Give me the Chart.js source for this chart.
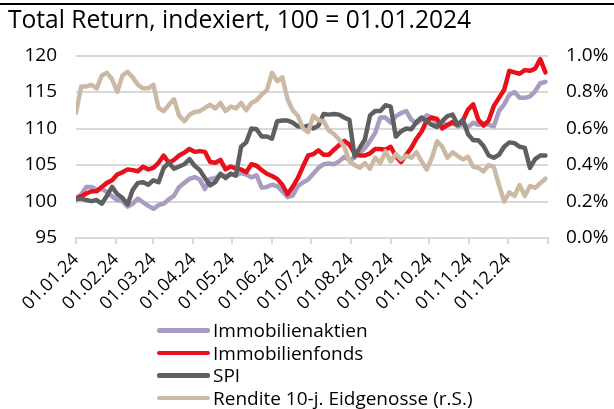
<!DOCTYPE html>
<html>
<head>
<meta charset="utf-8">
<script src="https://cdn.jsdelivr.net/npm/chart.js@4"></script>
<style>
  body { margin: 0; background: #fff; }
  #wrap { position: relative; width: 614px; height: 409px; }
  #topline { position: absolute; left: 0; top: 3px; width: 614px; height: 2px; background: #000; }
  #legend { position: absolute; left: 157px; top: 319px; font-family: "Open Sans", sans-serif; font-size: 19px; color: #000; }
  #legend .row { height: 22.5px; display: flex; align-items: center; }
  #legend .swatch { width: 53px; height: 4.5px; border-radius: 2px; margin-right: 3px; }
</style>
</head>
<body>
<div id="wrap">
  <canvas id="chart" width="614" height="409"></canvas>
  <div id="topline"></div>
  <div id="legend"></div>
</div>
<script>
// day of year 2024 (0 = 01.01.24), every 4 days
const days = [
  0, 4, 8, 12, 16, 20, 24, 28, 32, 36, 40, 44, 48, 52, 56, 60, 64, 68, 72, 76, 80, 84, 88, 92,
  96, 100, 104, 108, 112, 116, 120, 124, 128, 132, 136, 140, 144, 148, 152, 156, 160, 164, 168, 172, 176, 180, 184, 188,
  192, 196, 200, 204, 208, 212, 216, 220, 224, 228, 232, 236, 240, 244, 248, 252, 256, 260, 264, 268, 272, 276, 280,
  284, 288, 292, 296, 300, 304, 308, 312, 316, 320, 324, 328, 332, 336, 340, 344, 348, 352, 356, 360, 364
];

const immobilienaktien = [
  100.5, 100.95, 102.0, 102.0, 101.6, 101.7, 101.3, 100.7, 100.2, 100.05, 99.3, 99.7, 100.4, 99.9, 99.4, 99.0, 99.5, 99.7, 100.3, 100.8, 102.0, 102.55, 103.1, 103.35,
  103.0, 101.7, 103.1, 103.2, 103.6, 103.5, 103.8, 103.6, 103.9, 103.7, 103.3, 103.6, 101.9, 102.0, 102.3, 102.1, 101.4, 100.6, 100.8, 102.1, 102.6, 103.0, 103.8, 104.6,
  105.1, 105.2, 105.1, 105.5, 106.1, 105.7, 106.0, 106.7, 107.3, 108.3, 109.4, 111.5, 111.5, 110.8, 111.7, 112.1, 112.4, 111.2, 110.7, 111.2, 111.8, 111.5, 110.7,
  110.8, 110.4, 110.7, 110.3, 110.5, 110.2, 110.8, 110.5, 110.7, 110.5, 110.3, 112.4, 113.3, 114.6, 115.0, 114.2, 114.2, 114.4, 115.1, 116.2, 116.4
];

const immobilienfonds = [
  100.4, 100.7, 101.1, 101.4, 101.4, 102.0, 102.55, 102.9, 103.7, 104.0, 104.4, 104.3, 104.15, 104.75, 104.4, 104.6, 105.3, 106.3, 105.3, 105.7, 106.3, 106.7, 107.2, 106.8,
  106.9, 106.8, 105.4, 105.3, 105.7, 104.4, 104.8, 104.5, 104.4, 104.0, 105.1, 104.9, 104.3, 103.8, 103.5, 103.1, 102.3, 101.0, 102.0, 103.2, 104.8, 106.3, 106.5, 107.0,
  106.4, 106.4, 107.1, 107.7, 108.3, 107.8, 106.6, 106.3, 106.3, 106.6, 107.2, 107.2, 107.1, 107.5, 106.2, 105.4, 106.4, 107.35, 108.6, 109.6, 111.1, 111.5, 111.3,
  110.0, 110.5, 110.9, 110.5, 111.1, 112.6, 113.3, 111.2, 110.4, 111.1, 113.1, 114.2, 115.3, 117.9, 117.7, 117.5, 118.0, 117.9, 118.2, 119.5, 117.7
];

const spi = [
  100.3, 100.4, 100.2, 100.05, 100.2, 99.7, 100.8, 102.0, 101.0, 100.5, 99.6, 101.6, 102.55, 102.65, 102.3, 102.9, 102.65, 104.6, 105.3, 104.5, 104.8, 105.1, 105.8, 104.9,
  104.3, 103.2, 102.2, 102.65, 103.8, 103.2, 103.8, 103.55, 107.5, 108.1, 110.0, 109.9, 108.9, 108.9, 108.6, 111.0, 111.1, 111.1, 110.8, 110.3, 110.2, 110.4, 110.0, 110.4,
  112.0, 111.9, 112.0, 111.9, 111.5, 111.2, 106.2, 107.35, 108.5, 111.8, 112.4, 112.4, 113.2, 113.0, 108.9, 109.6, 110.0, 109.9, 110.9, 111.5, 111.0, 110.5, 110.2,
  111.0, 111.7, 111.9, 110.5, 111.2, 109.2, 108.4, 108.4, 107.6, 106.3, 106.0, 106.4, 107.5, 108.1, 108.0, 107.5, 107.35, 104.6, 105.8, 106.3, 106.3
];

// Rendite 10-j. Eidgenosse in %
const rendite = [
  0.686, 0.83, 0.83, 0.84, 0.82, 0.89, 0.905, 0.87, 0.80, 0.89, 0.91, 0.88, 0.84, 0.82, 0.82, 0.84, 0.713, 0.695, 0.73, 0.76, 0.67, 0.64, 0.675, 0.69,
  0.695, 0.713, 0.73, 0.71, 0.74, 0.695, 0.72, 0.71, 0.74, 0.70, 0.74, 0.755, 0.786, 0.81, 0.905, 0.86, 0.88, 0.76, 0.70, 0.67, 0.60, 0.58, 0.67, 0.645,
  0.64, 0.59, 0.57, 0.54, 0.50, 0.42, 0.40, 0.385, 0.41, 0.38, 0.44, 0.41, 0.475, 0.42, 0.46, 0.43, 0.45, 0.44, 0.47, 0.42, 0.375, 0.44, 0.53,
  0.50, 0.44, 0.47, 0.45, 0.43, 0.445, 0.39, 0.385, 0.365, 0.40, 0.39, 0.29, 0.20, 0.25, 0.23, 0.29, 0.23, 0.285, 0.275, 0.30, 0.325
];

const monthStarts = [0, 31, 60, 91, 121, 152, 182, 213, 244, 274, 305, 335, 366];
const monthLabels = ['01.01.24', '01.02.24', '01.03.24', '01.04.24', '01.05.24', '01.06.24',
  '01.07.24', '01.08.24', '01.09.24', '01.10.24', '01.11.24', '01.12.24'];

const FONT = '"Open Sans", sans-serif';
const GRID = '#d9d9d9';

const pts = arr => arr.map((v, i) => ({ x: days[i], y: v }));

const line = (label, data, color, axis, order) => ({
    label, data: pts(data), borderColor: color, backgroundColor: color,
    yAxisID: axis, order, borderWidth: 4.5, pointRadius: 0,
    borderJoinStyle: 'round', borderCapStyle: 'round', tension: 0
});

const chart = new Chart(document.getElementById('chart'), {
    type: 'line',
    data: {
        datasets: [
            line('Immobilienaktien', immobilienaktien, '#a99cc0', 'y', 3),
            line('Immobilienfonds', immobilienfonds, '#e8101b', 'y', 2),
            line('SPI', spi, '#5f5f5f', 'y', 1),
            line('Rendite 10-j. Eidgenosse (r.S.)', rendite, '#cbb9a4', 'y1', 0)
        ]
    },
    options: {
        responsive: false,
        animation: false,
        devicePixelRatio: 1,
        layout: { padding: { left: 8, right: 0, top: 0, bottom: 0 } },
        plugins: {
            legend: { display: false },
            tooltip: { enabled: false },
            title: {
                display: true,
                text: 'Total Return, indexiert, 100 = 01.01.2024',
                align: 'start',
                color: '#000',
                font: { family: FONT, size: 24.6, weight: 'normal' },
                padding: { top: 6, bottom: 20 }
            }
        },
        scales: {
            x: {
                type: 'linear',
                min: 0, max: 366,
                afterBuildTicks: s => { s.ticks = monthStarts.map(v => ({ value: v })); },
                afterFit: s => { s.height = 171; },
                grid: { drawOnChartArea: false, drawTicks: true, tickLength: 6, color: GRID, lineWidth: 2 },
                border: { display: true, color: GRID, width: 2 },
                ticks: {
                    autoSkip: false, minRotation: 45, maxRotation: 45, padding: 5,
                    color: '#000', font: { family: FONT, size: 18 },
                    callback: (v, i) => monthLabels[i] || ''
                }
            },
            y: {
                position: 'left',
                min: 95, max: 120,
                afterFit: s => { s.width = 68; },
                grid: { color: GRID, lineWidth: 2, drawTicks: false },
                border: { display: false },
                ticks: { stepSize: 5, padding: 19, color: '#000', font: { family: FONT, size: 19 } }
            },
            y1: {
                position: 'right',
                min: 0, max: 1.0,
                afterFit: s => { s.width = 66; },
                grid: { drawOnChartArea: false, drawTicks: false },
                border: { display: false },
                ticks: {
                    stepSize: 0.2, padding: 18, color: '#000', font: { family: FONT, size: 19 },
                    callback: v => v.toFixed(1) + '%'
                }
            }
        }
    }
});

/* ================= LEGEND ================= */
const legend = document.getElementById('legend');
chart.data.datasets.forEach(ds => {
    const row = document.createElement('div');
    row.className = 'row';
    row.innerHTML = `<span class="swatch" style="background:${ds.borderColor}"></span><span>${ds.label}</span>`;
    legend.appendChild(row);
});
</script>
</body>
</html>
